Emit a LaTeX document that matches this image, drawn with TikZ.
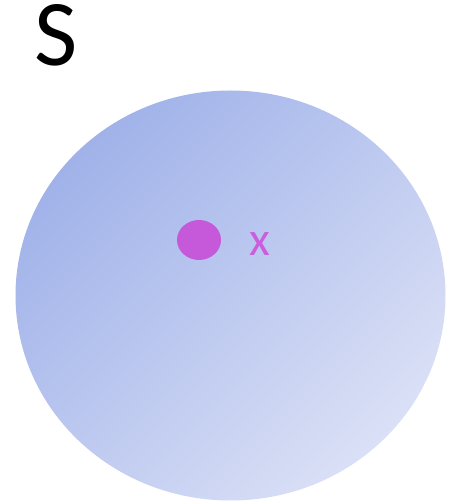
\documentclass[tikz,border=0pt]{standalone}
\usepackage{fontspec}
\setmainfont{Carlito}
\usetikzlibrary{shapes.geometric}
\definecolor{blobdark}{HTML}{A0B2E9}
\definecolor{bloblight}{HTML}{DAE0F6}
\definecolor{dotcol}{HTML}{C659DA}
\definecolor{labcol}{HTML}{CA5EDC}
\tikzset{
  setblob/.style={ellipse, inner sep=0pt, minimum width=430pt, minimum height=410pt,
    top color=blobdark, bottom color=bloblight, shading angle=45, draw=none},
  elemdot/.style={ellipse, inner sep=0pt, minimum width=44pt, minimum height=40pt, fill=dotcol, draw=none},
  lab/.style={inner sep=0pt, anchor=base west, text height=0.66em, text depth=0pt}
}
\begin{document}
\begin{tikzpicture}[x=1pt,y=1pt]
\useasboundingbox (0,0) rectangle (459,501);
\node[setblob] (blob) at (230.5,205.5) {};
\node[elemdot] (dot) at (199,261) {};
\node[lab, font=\fontsize{94}{94}\selectfont, text=black] (S) at (34,435.5) {S};
\node[lab, font=\fontsize{48}{48}\selectfont, text=labcol] (xlab) at (249,245) {x};
\end{tikzpicture}
\end{document}
